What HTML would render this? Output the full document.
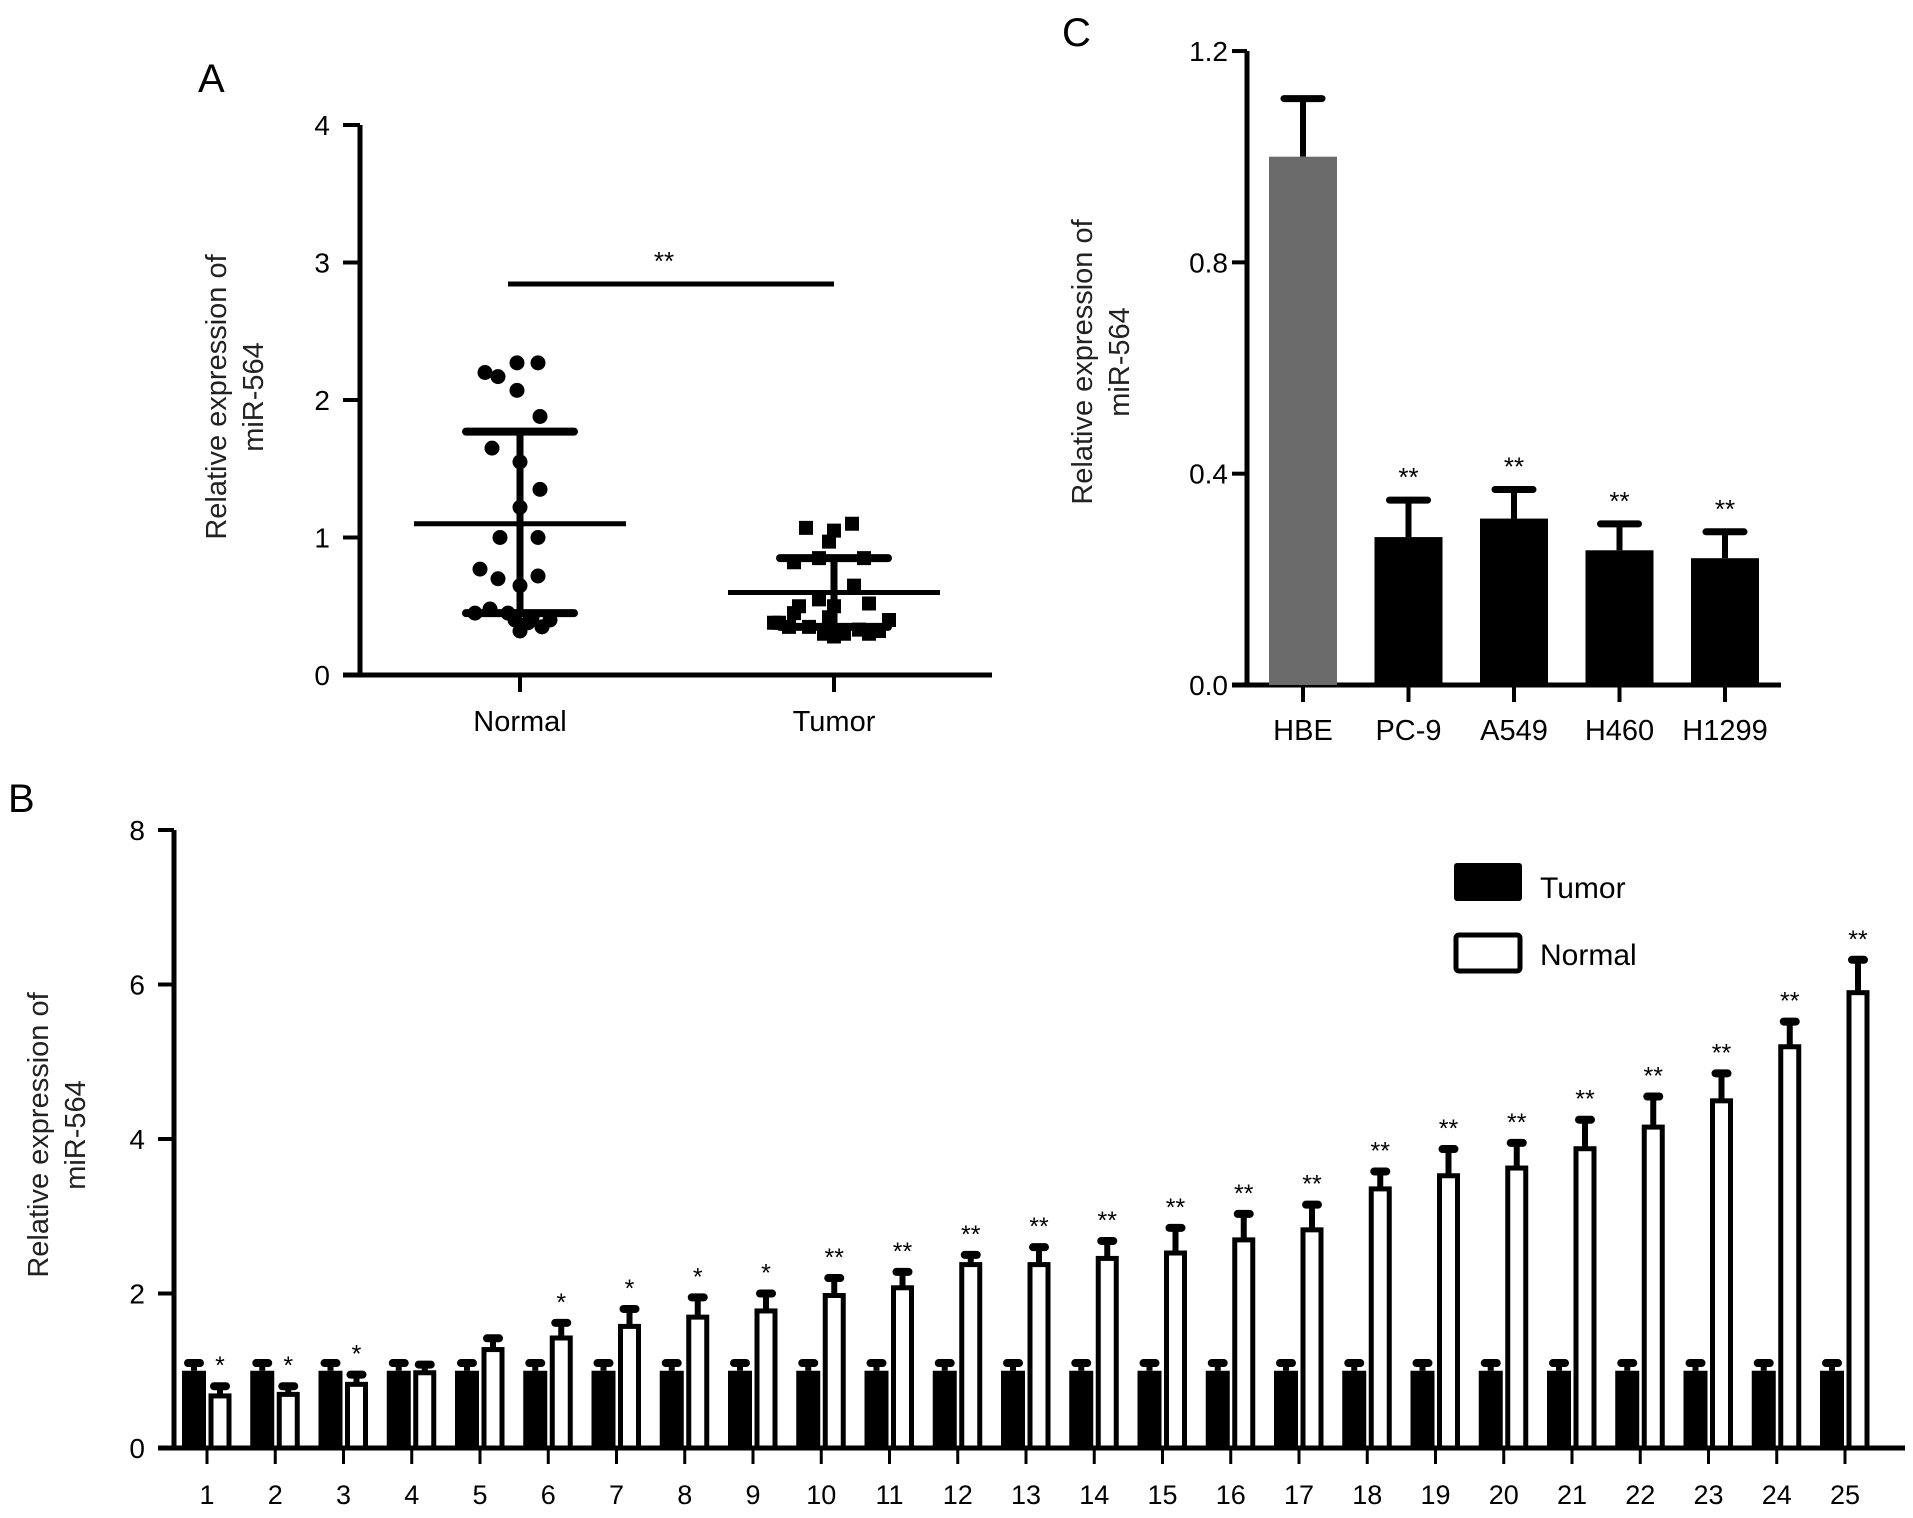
<!DOCTYPE html>
<html><head><meta charset="utf-8"><style>
body{margin:0;background:#fff}
svg{display:block;font-family:"Liberation Sans",Arial,sans-serif}
</style></head><body>
<svg id="fig" width="1913" height="1518" viewBox="0 0 1913 1518" xmlns="http://www.w3.org/2000/svg">
<g id="pa"></g>
<g id="pc"></g>
<g id="pb"></g>
</svg>
<script>
// Panel A data
const aGroups=["Normal","Tumor"];
const aNormalPts=[2.27,2.27,2.2,2.17,2.07,1.88,1.65,1.55,1.35,1.22,1.0,1.0,0.77,0.7,0.72,0.65,0.48,0.45,0.42,0.4,0.4,0.38,0.35,0.32,0.45];
const aTumorPts=[1.1,1.07,1.05,0.97,0.85,0.85,0.82,0.65,0.55,0.52,0.5,0.45,0.42,0.4,0.38,0.35,0.33,0.32,0.3,0.3,0.28,0.35,0.3,0.5,0.38];
const aMeans=[1.1,0.6];
const aSdLow=[0.45,0.35];
const aSdHigh=[1.77,0.85];
const aTicks=[0,1,2,3,4];
// Panel C data
const cCats=["HBE","PC-9","A549","H460","H1299"];
const cVals=[1.0,0.28,0.315,0.255,0.24];
const cErr=[0.11,0.07,0.055,0.05,0.05];
const cSig=["","**","**","**","**"];
const cTicks=["0.0","0.4","0.8","1.2"];
// Panel B data
const bCats=["1","2","3","4","5","6","7","8","9","10","11","12","13","14","15","16","17","18","19","20","21","22","23","24","25"];
const bTumor=[1.0,1.0,1.0,1.0,1.0,1.0,1.0,1.0,1.0,1.0,1.0,1.0,1.0,1.0,1.0,1.0,1.0,1.0,1.0,1.0,1.0,1.0,1.0,1.0,1.0];
const bTumorErr=[0.1,0.1,0.1,0.1,0.1,0.1,0.1,0.1,0.1,0.1,0.1,0.1,0.1,0.1,0.1,0.1,0.1,0.1,0.1,0.1,0.1,0.1,0.1,0.1,0.1];
const bNormal=[0.7,0.72,0.85,1.0,1.3,1.45,1.6,1.72,1.8,2.0,2.1,2.4,2.4,2.48,2.55,2.72,2.85,3.38,3.55,3.65,3.9,4.18,4.52,5.22,5.92];
const bNormalErr=[0.1,0.08,0.1,0.08,0.12,0.17,0.2,0.23,0.2,0.2,0.18,0.1,0.2,0.2,0.3,0.31,0.3,0.2,0.32,0.3,0.35,0.37,0.33,0.3,0.4];
const bSig=["*","*","*","","","*","*","*","*","**","**","**","**","**","**","**","**","**","**","**","**","**","**","**","**"];
const bTicks=[0,2,4,6,8];

const NS="http://www.w3.org/2000/svg";
function mk(parent,tag,attrs,text){const e=document.createElementNS(NS,tag);for(const k in attrs)e.setAttribute(k,attrs[k]);if(text!==undefined)e.textContent=text;parent.appendChild(e);return e;}

// ---------- Panel A ----------
const pa=document.getElementById('pa');
const ay=v=>675-v*137.5;
const ax=i=>[520,834][i];
let t=mk(pa,'text',{x:198,y:92,'font-size':40});t.textContent='A';


let e=mk(pa,'line',{x1:360,y1:ay(4),x2:360,y2:ay(0)+2,stroke:'#000','stroke-width':5});


e=mk(pa,'line',{x1:343,y1:ay(0),x2:992,y2:ay(0),stroke:'#000','stroke-width':5});


aTicks.forEach(v=>{
 mk(pa,'line',{x1:343,y1:ay(v),x2:360,y2:ay(v),stroke:'#000','stroke-width':4});
 const l=mk(pa,'text',{x:330,y:ay(v)+10,'font-size':28,'text-anchor':'end'},String(v));
 
 
});
aGroups.forEach((g,i)=>{
 mk(pa,'line',{x1:ax(i),y1:ay(0),x2:ax(i),y2:ay(0)+17,stroke:'#000','stroke-width':4});
 const l=mk(pa,'text',{x:ax(i),y:731,'font-size':29,'text-anchor':'middle'},g);
 
 
});
const ttl=mk(pa,'text',{transform:'translate(226,397) rotate(-90)','font-size':29,'text-anchor':'middle',fill:'#222'});


mk(ttl,'tspan',{x:0,dy:0},'Relative expression of');
mk(ttl,'tspan',{x:0,dy:37},'miR-564');
const jitN=[-3,18,-35,-22,-3,20,-28,0,20,0,-20,18,-40,-22,18,0,-30,-12,12,30,-5,8,22,0,-45];
const jitT=[18,-28,0,-5,-15,30,-40,20,-15,35,0,-40,-5,55,-55,-25,25,45,-10,10,0,-45,35,-35,-60];
aNormalPts.forEach((v,i)=>{const c=mk(pa,'circle',{cx:ax(0)+jitN[i],cy:ay(v),r:7.5,fill:'#000'});
 
 });
aTumorPts.forEach((v,i)=>{const r=mk(pa,'rect',{x:ax(1)+jitT[i]-7,y:ay(v)-7,width:14,height:14,fill:'#000'});
 
 });
[0,1].forEach(i=>{
 mk(pa,'line',{x1:ax(i),y1:ay(aSdHigh[i]),x2:ax(i),y2:ay(aSdLow[i]),stroke:'#000','stroke-width':7});
 [aSdHigh[i],aSdLow[i]].forEach(v=>mk(pa,'line',{x1:ax(i)-54,y1:ay(v),x2:ax(i)+54,y2:ay(v),stroke:'#000','stroke-width':8,'stroke-linecap':'round'}));
 const m=mk(pa,'line',{x1:ax(i)-106,y1:ay(aMeans[i]),x2:ax(i)+106,y2:ay(aMeans[i]),stroke:'#000','stroke-width':5});
 
 
});
e=mk(pa,'line',{x1:508,y1:284,x2:834,y2:284,stroke:'#000','stroke-width':5});


mk(pa,'text',{x:664,y:270,'font-size':26,'text-anchor':'middle'},'**');

// ---------- Panel C ----------
const pc=document.getElementById('pc');
const cy=v=>685-v*528.3;
const cx=i=>1303+i*105.5;
t=mk(pc,'text',{x:1062,y:46,'font-size':40},'C');


e=mk(pc,'line',{x1:1247,y1:cy(1.2),x2:1247,y2:cy(0)+2,stroke:'#000','stroke-width':5});


e=mk(pc,'line',{x1:1232,y1:cy(0),x2:1781,y2:cy(0),stroke:'#000','stroke-width':5});


cTicks.forEach(s=>{const v=parseFloat(s);
 mk(pc,'line',{x1:1232,y1:cy(v),x2:1247,y2:cy(v),stroke:'#000','stroke-width':4});
 const l=mk(pc,'text',{x:1228,y:cy(v)+10,'font-size':28,'text-anchor':'end'},s);
 
 
});
const ct=mk(pc,'text',{transform:'translate(1092,362) rotate(-90)','font-size':29,'text-anchor':'middle',fill:'#222'});


mk(ct,'tspan',{x:0,dy:0},'Relative expression of');
mk(ct,'tspan',{x:0,dy:37},'miR-564');
cCats.forEach((c,i)=>{
 const top=cVals[i]+cErr[i];
 mk(pc,'line',{x1:cx(i),y1:cy(top),x2:cx(i),y2:cy(cVals[i]),stroke:'#000','stroke-width':6});
 mk(pc,'line',{x1:cx(i)-19,y1:cy(top),x2:cx(i)+19,y2:cy(top),stroke:'#000','stroke-width':7,'stroke-linecap':'round'});
 const b=mk(pc,'rect',{x:cx(i)-34,y:cy(cVals[i]),width:68,height:cy(0)-cy(cVals[i]),fill:i==0?'#6b6b6b':'#000'});
 
 
 mk(pc,'line',{x1:cx(i),y1:cy(0),x2:cx(i),y2:cy(0)+17,stroke:'#000','stroke-width':4});
 const l=mk(pc,'text',{x:cx(i),y:740,'font-size':29,'text-anchor':'middle'},c);
 
 
 if(cSig[i]){const s=mk(pc,'text',{x:cx(i),y:cy(top)-14,'font-size':26,'text-anchor':'middle'},cSig[i]);
  
  }
});

// ---------- Panel B ----------
const pb=document.getElementById('pb');
const by=v=>1448-v*77.25;
const bx=i=>207+i*68.25;
t=mk(pb,'text',{x:8,y:812,'font-size':40},'B');


e=mk(pb,'line',{x1:174,y1:by(8),x2:174,y2:by(0)+2,stroke:'#000','stroke-width':5});


e=mk(pb,'line',{x1:158,y1:by(0),x2:1905,y2:by(0),stroke:'#000','stroke-width':5});


bTicks.forEach(v=>{
 mk(pb,'line',{x1:158,y1:by(v),x2:174,y2:by(v),stroke:'#000','stroke-width':4});
 const l=mk(pb,'text',{x:145,y:by(v)+10,'font-size':28,'text-anchor':'end'},String(v));
 
 
});
const bt=mk(pb,'text',{transform:'translate(48,1135) rotate(-90)','font-size':29,'text-anchor':'middle',fill:'#222'});


mk(bt,'tspan',{x:0,dy:0},'Relative expression of');
mk(bt,'tspan',{x:0,dy:37},'miR-564');
bCats.forEach((c,i)=>{
 const tx=bx(i)-13, nx=bx(i)+13;
 const tt=bTumor[i]+bTumorErr[i];
 mk(pb,'line',{x1:tx,y1:by(tt),x2:tx,y2:by(bTumor[i]),stroke:'#000','stroke-width':6});
 mk(pb,'line',{x1:tx-6,y1:by(tt),x2:tx+6,y2:by(tt),stroke:'#000','stroke-width':8,'stroke-linecap':'round'});
 const b1=mk(pb,'rect',{x:tx-12,y:by(bTumor[i]),width:24,height:by(0)-by(bTumor[i]),fill:'#000'});
 
 
 const nt=bNormal[i]+bNormalErr[i];
 mk(pb,'line',{x1:nx,y1:by(nt),x2:nx,y2:by(bNormal[i]),stroke:'#000','stroke-width':6});
 mk(pb,'line',{x1:nx-6,y1:by(nt),x2:nx+6,y2:by(nt),stroke:'#000','stroke-width':8,'stroke-linecap':'round'});
 const b2=mk(pb,'rect',{x:nx-9,y:by(bNormal[i])+2,width:18,height:by(0)-by(bNormal[i])-2,fill:'#fff',stroke:'#000','stroke-width':5});
 
 
 mk(pb,'line',{x1:bx(i),y1:by(0),x2:bx(i),y2:by(0)+16,stroke:'#000','stroke-width':3});
 const l=mk(pb,'text',{x:bx(i),y:1504,'font-size':27,'text-anchor':'middle'},c);
 
 
 if(bSig[i]){const s=mk(pb,'text',{x:nx,y:by(nt)-12,'font-size':25,'text-anchor':'middle'},bSig[i]);
  
  }
});
let lg=mk(pb,'rect',{x:1454,y:863,width:68,height:38,rx:3,fill:'#000'});


lg=mk(pb,'text',{x:1540,y:898,'font-size':30},'Tumor');


lg=mk(pb,'rect',{x:1456,y:935,width:64,height:36,rx:3,fill:'#fff',stroke:'#000','stroke-width':5});


lg=mk(pb,'text',{x:1540,y:965,'font-size':30},'Normal');


</script>
</body></html>
